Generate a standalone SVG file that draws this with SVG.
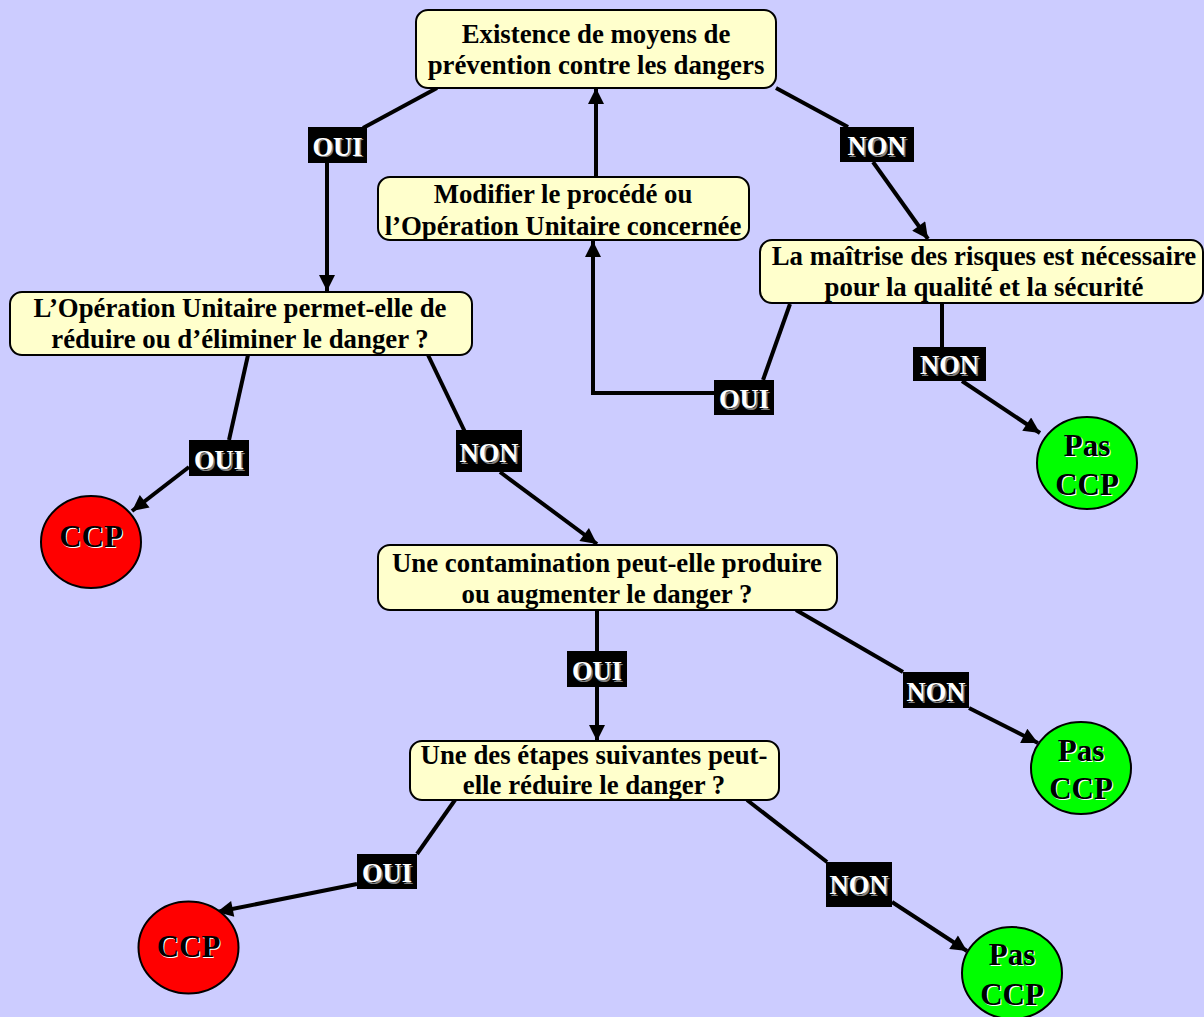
<svg xmlns="http://www.w3.org/2000/svg" width="1204" height="1017" viewBox="0 0 1204 1017">
<defs>
<marker id="arr" viewBox="0 0 10 10" refX="10" refY="5" markerWidth="4.5" markerHeight="4" orient="auto" markerUnits="strokeWidth">
<path d="M0,0 L10,5 L0,10 z" fill="#000"/>
</marker>
<style>
.box{fill:#FFFFCC;stroke:#000;stroke-width:2}
.t{font-family:"Liberation Serif","Times New Roman",serif;font-weight:bold;font-size:26.8px;text-anchor:middle;fill:#000}
.lb{fill:#000}
.lt{font-family:"Liberation Serif","Times New Roman",serif;font-weight:bold;font-size:26.5px;text-anchor:middle;fill:#fff}
.ls{font-family:"Liberation Serif","Times New Roman",serif;font-weight:bold;font-size:26.5px;text-anchor:middle;fill:#808080}
.ct{font-family:"Liberation Serif","Times New Roman",serif;font-weight:bold;font-size:31px;text-anchor:middle;fill:#000}
.cs{font-family:"Liberation Serif","Times New Roman",serif;font-weight:bold;font-size:31px;text-anchor:middle;fill:#fff}
.red{fill:#FF0000;stroke:#000;stroke-width:2}
.green{fill:#00FF00;stroke:#000;stroke-width:2}
.c{fill:none;stroke:#000;stroke-width:4}
.ca{fill:none;stroke:#000;stroke-width:4;marker-end:url(#arr)}
</style>
</defs>
<rect width="1204" height="1017" fill="#CCCCFF"/>

<g id="connectors">
<line class="c" x1="437" y1="88" x2="363" y2="128"/>
<line class="ca" x1="327" y1="163" x2="327" y2="291"/>
<line class="c" x1="776" y1="88" x2="848" y2="127"/>
<line class="ca" x1="873" y1="162" x2="928" y2="239"/>
<line class="ca" x1="596" y1="177" x2="596" y2="88"/>
<line class="c" x1="790" y1="304" x2="763" y2="380"/>
<polyline class="ca" points="714,393 593,393 593,241"/>
<line class="c" x1="942" y1="304" x2="942" y2="347"/>
<line class="ca" x1="962" y1="381" x2="1040" y2="433"/>
<line class="c" x1="248" y1="355" x2="229" y2="440"/>
<line class="ca" x1="189" y1="467" x2="132" y2="511"/>
<line class="c" x1="428" y1="355" x2="465" y2="432"/>
<line class="ca" x1="500" y1="472" x2="597" y2="544"/>
<line class="c" x1="597" y1="610" x2="597" y2="651"/>
<line class="ca" x1="597" y1="687" x2="597" y2="741"/>
<line class="c" x1="796" y1="610" x2="903" y2="672"/>
<line class="ca" x1="969" y1="708" x2="1038" y2="743"/>
<line class="c" x1="455" y1="800" x2="417" y2="854"/>
<line class="ca" x1="357" y1="884" x2="217" y2="912"/>
<line class="c" x1="747" y1="800" x2="827" y2="862"/>
<line class="ca" x1="892" y1="902" x2="967" y2="951"/>
</g>

<g id="n1">
<rect class="box" x="416" y="10" width="360" height="78" rx="12"/>
<text class="t" x="596" y="43">Existence de moyens de</text>
<text class="t" x="596" y="74">prévention contre les dangers</text>
</g>
<g id="n2">
<rect class="box" x="378" y="177" width="371" height="63" rx="12"/>
<text class="t" x="563" y="203">Modifier le procédé ou</text>
<text class="t" x="563" y="235">l’Opération Unitaire concernée</text>
</g>
<g id="n3">
<rect class="box" x="760" y="240" width="443" height="63" rx="12"/>
<text class="t" x="984" y="265">La maîtrise des risques est nécessaire</text>
<text class="t" x="984" y="296">pour la qualité et la sécurité</text>
</g>
<g id="n4">
<rect class="box" x="10" y="292" width="462" height="63" rx="12"/>
<text class="t" x="240" y="317">L’Opération Unitaire permet-elle de</text>
<text class="t" x="240" y="348">réduire ou d’éliminer le danger ?</text>
</g>
<g id="n5">
<rect class="box" x="378" y="545" width="459" height="65" rx="12"/>
<text class="t" x="607" y="572">Une contamination peut-elle produire</text>
<text class="t" x="607" y="603">ou augmenter le danger ?</text>
</g>
<g id="n6">
<rect class="box" x="410" y="741" width="369" height="59" rx="12"/>
<text class="t" x="594" y="764">Une des étapes suivantes peut-</text>
<text class="t" x="594" y="794">elle réduire le danger ?</text>
</g>

<g id="l1"><rect class="lb" x="308" y="127" width="59" height="36"/><text class="ls" x="339" y="157">OUI</text><text class="lt" x="337.5" y="155.5">OUI</text></g>
<g id="l2"><rect class="lb" x="840" y="127" width="74" height="35"/><text class="ls" x="878.5" y="156.5">NON</text><text class="lt" x="877" y="155">NON</text></g>
<g id="l3"><rect class="lb" x="714" y="380" width="60" height="35"/><text class="ls" x="745.5" y="409.5">OUI</text><text class="lt" x="744" y="408">OUI</text></g>
<g id="l4"><rect class="lb" x="913" y="347" width="73" height="34"/><text class="ls" x="951" y="375.5">NON</text><text class="lt" x="949.5" y="374">NON</text></g>
<g id="l5"><rect class="lb" x="189" y="440" width="60" height="36"/><text class="ls" x="220.5" y="470.5">OUI</text><text class="lt" x="219" y="469">OUI</text></g>
<g id="l6"><rect class="lb" x="456" y="430" width="66" height="42"/><text class="ls" x="490.5" y="463.5">NON</text><text class="lt" x="489" y="462">NON</text></g>
<g id="l7"><rect class="lb" x="567" y="651" width="60" height="36"/><text class="ls" x="598.5" y="681.5">OUI</text><text class="lt" x="597" y="680">OUI</text></g>
<g id="l8"><rect class="lb" x="903" y="672" width="66" height="36"/><text class="ls" x="937.5" y="702.5">NON</text><text class="lt" x="936" y="701">NON</text></g>
<g id="l9"><rect class="lb" x="357" y="854" width="60" height="35"/><text class="ls" x="388.5" y="883.5">OUI</text><text class="lt" x="387" y="882">OUI</text></g>
<g id="l10"><rect class="lb" x="826" y="862" width="66" height="45"/><text class="ls" x="860.5" y="895.5">NON</text><text class="lt" x="859" y="894">NON</text></g>

<g id="ccp1"><ellipse class="red" cx="91" cy="542" rx="50" ry="46"/><text class="cs" x="92.2" y="548.2">CCP</text><text class="ct" x="91" y="547">CCP</text></g>
<g id="pas1"><ellipse class="green" cx="1087" cy="463" rx="50" ry="46"/><text class="cs" x="1088.2" y="457.2">Pas</text><text class="ct" x="1087" y="456">Pas</text><text class="cs" x="1088.2" y="496.2">CCP</text><text class="ct" x="1087" y="495">CCP</text></g>
<g id="pas2"><ellipse class="green" cx="1081" cy="768" rx="50" ry="46"/><text class="cs" x="1082.2" y="762.2">Pas</text><text class="ct" x="1081" y="761">Pas</text><text class="cs" x="1082.2" y="800.2">CCP</text><text class="ct" x="1081" y="799">CCP</text></g>
<g id="ccp2"><ellipse class="red" cx="188.5" cy="947.5" rx="50" ry="46"/><text class="cs" x="189.7" y="958.2">CCP</text><text class="ct" x="188.5" y="957">CCP</text></g>
<g id="pas3"><ellipse class="green" cx="1012" cy="973" rx="50" ry="46"/><text class="cs" x="1013.2" y="966.2">Pas</text><text class="ct" x="1012" y="965">Pas</text><text class="cs" x="1013.2" y="1006.2">CCP</text><text class="ct" x="1012" y="1005">CCP</text></g>
</svg>
